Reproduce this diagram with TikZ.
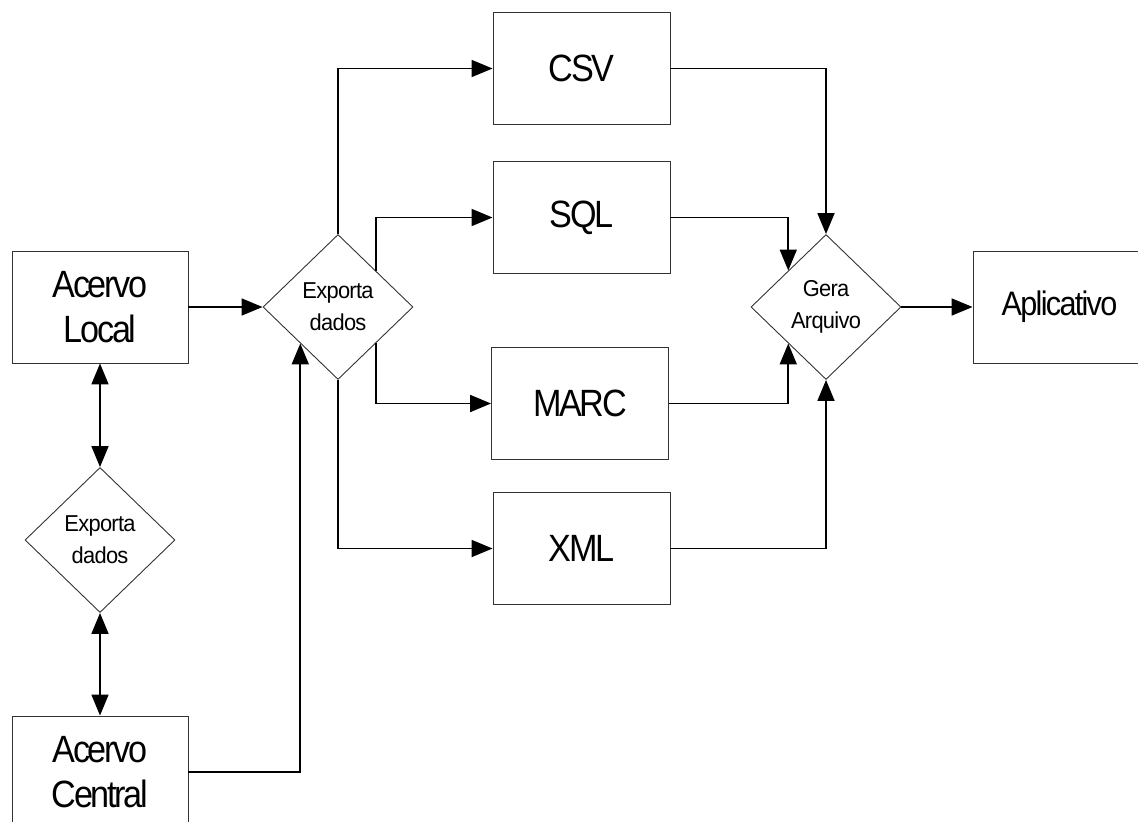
\documentclass[tikz,border=0pt]{standalone}
\usepackage{fontspec}
\setmainfont{Liberation Sans}
\newfontfamily\boxfont[FakeStretch=0.9, LetterSpace=-6]{Liberation Sans}
\newfontfamily\appfont[FakeStretch=0.9, LetterSpace=-5]{Liberation Sans}
\newfontfamily\diafont[FakeStretch=0.95, LetterSpace=-3]{Liberation Sans}
\usetikzlibrary{shapes.geometric,arrows.meta}
\begin{document}
\begin{tikzpicture}[x=1pt,y=-1pt,
  boxnode/.style={draw=black!80, line width=0.9pt, rectangle, minimum width=177pt, minimum height=112pt, inner sep=0pt, align=center, font=\boxfont\fontsize{38}{45}\selectfont},
  dianode/.style={draw=black!80, line width=0.9pt, diamond, minimum width=150pt, minimum height=145pt, inner sep=0pt, align=center, font=\diafont\fontsize{23}{32}\selectfont},
  conn/.style={line width=1.8pt, -{Triangle[length=21pt,width=17pt]}},
  conn2/.style={line width=1.8pt, {Triangle[length=21pt,width=17pt]}-{Triangle[length=21pt,width=17pt]}}
]
\useasboundingbox (0,0) rectangle (1138,822);
\node[boxnode, minimum width=176pt] (local) at (100,307) {Acervo\\Local};
\node[boxnode, minimum width=176pt] (central) at (100,772) {Acervo\\Central};
\node[dianode] (exp2) at (100,540) {Exporta\\dados};
\node[dianode] (exp) at (338,307) {Exporta\\dados};
\node[boxnode] (csv) at (581.5,68.5) {CSV};
\node[boxnode] (sql) at (581.5,217.5) {SQL};
\node[boxnode] (marc) at (580,403.5) {MARC};
\node[boxnode] (xml) at (581.5,548.5) {XML};
\node[dianode] (gera) at (826,307) {Gera\\Arquivo};
\node[boxnode, minimum width=173pt, font=\appfont\fontsize{34}{42}\selectfont] (app) at (1059.5,307) {Aplicativo};

\draw[conn] (local.east) -- (exp.west);
\draw[conn2] (local.south) -- (exp2.north);
\draw[conn2] (exp2.south) -- (central.north);
\draw[conn] (central.east) -| (exp.south west);
\draw[conn] (exp.north) |- (csv.west);
\draw[conn] (exp.north east) |- (sql.west);
\draw[conn] (exp.south east) |- (marc.west);
\draw[conn] (exp.south) |- (xml.west);
\draw[conn] (csv.east) -| (gera.north);
\draw[conn] (sql.east) -| (gera.north west);
\draw[conn] (marc.east) -| (gera.south west);
\draw[conn] (xml.east) -| (gera.south);
\draw[conn] (gera.east) -- (app.west);
\end{tikzpicture}
\end{document}
